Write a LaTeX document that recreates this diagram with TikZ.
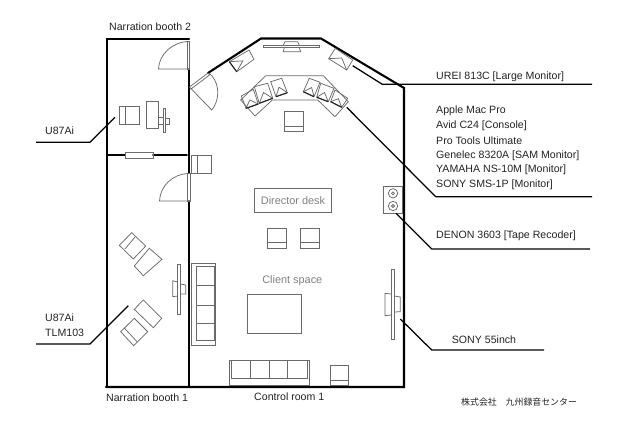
\documentclass[tikz,border=0pt]{standalone}
\usepackage{fontspec}
\setmainfont{Liberation Sans}
\newfontfamily\cjkfont{Noto Sans CJK JP}
\usetikzlibrary{calc}
\definecolor{ink}{HTML}{222222}
\definecolor{fur}{HTML}{6A6A6A}
\definecolor{soft}{HTML}{808080}
\tikzset{
  wall/.style={draw=black,line width=2.1pt,line cap=round,line join=miter},
  thinwall/.style={draw=black,line width=1.7pt,line cap=round},
  item/.style={draw=fur,line width=0.75pt,line join=miter},
  edge/.style={draw=ink,line width=1.1pt},
  leader/.style={draw=black,line width=1.25pt,line join=round},
  lab/.style={text=ink,anchor=west,inner sep=0pt,font=\fontsize{10.6}{12}\selectfont},
  grey/.style={text=soft,inner sep=0pt,font=\fontsize{10.9}{12}\selectfont}
}
\newcommand{\spk}[4]{%
  \draw[item] (#1) -- (#2) -- (#3) -- (#4) -- cycle;
  \draw[item] (#4) -- ($(#1)!.5!(#3)$) -- (#3);
  \draw[edge] (#3) -- (#4);}
\begin{document}
\begin{tikzpicture}[x=1pt,y=-1pt]
\useasboundingbox (0,0) rectangle (617,437);
% walls
\draw[wall] (107,387) -- (107,39) -- (189,39);
\draw[thinwall] (189,69) -- (189,173) (189,201) -- (189,387);
\draw[wall] (106,387) -- (404,387) -- (404,88) -- (321,38.5) -- (261,38.5) -- (208,73);
\draw[thinwall] (107,155) -- (125,155) (153,155) -- (187,155);
% doors
\draw[item] (187,41) rectangle (189.5,69);
\draw[item] (189,41.5) .. controls (173,41.5) and (159,54) .. (158.5,69) -- (189,69);
\draw[item] (187,173) rectangle (190,201);
\draw[item] (189,173.5) .. controls (173,173.5) and (160,186) .. (159.5,201) -- (189,201);
\draw[item] (189.5,87) -- (208,73) -- (209.5,75) -- (191,89) -- cycle;
\draw[item] (190.5,88) -- (211.7,110) .. controls (222,97) and (218,80) .. (209,73);
% window between booths
\draw[item] (125.5,152.5) rectangle (153,158);
% booth 2 furniture
\draw[item] (119,106) rectangle (139,124) (125,106) -- (125,124);
\draw[item] (146,101) rectangle (158,128);
\draw[item] (163,108) rectangle (165,132);
\draw[item] (158,117) rectangle (163,124);
\draw[item] (165,118) rectangle (169,124);
% chair at door
\draw[item] (191,155) rectangle (211,173) (197,155) -- (197,173);
% booth 1 furniture
\draw[item] (131.7,232.7) -- (145.7,246) -- (133.3,259) -- (119.3,245.3) -- cycle;
\draw[item] (125,249) -- (135,237);
\draw[item] (149.3,248.3) -- (162,259.3) -- (143.3,275.7) -- (134.3,266) -- cycle;
\draw[item] (143.3,300) -- (161.7,318.3) -- (153.3,327.7) -- (134.3,309.3) -- cycle;
\draw[item] (134.3,318.3) -- (147.7,331.7) -- (133.7,345.7) -- (120.7,331.7) -- cycle;
\draw[item] (124.3,328) -- (137,341.7);
\draw[item] (177.7,264) rectangle (180.7,314);
\draw[item] (177.7,282) -- (172.7,280.7) -- (172.7,296.7) -- (177.7,296);
\draw[item] (180.7,284) -- (185.7,285) -- (185.7,294) -- (180.7,294);
% sofa left
\draw[item] (191,263.3) rectangle (215.7,345);
\draw[item] (196.7,266) -- (214.3,266) -- (214.3,340.7) -- (196.7,340.7) -- cycle;
\draw[item] (196.7,285.7) -- (214.3,285.7) (196.7,305) -- (214.3,305) (196.7,323.3) -- (214.3,323.3);
% sofa bottom
\draw[item] (229,360) rectangle (309,385.5);
\draw[item] (231,360) -- (231,378.3) -- (307,378.3) -- (307,360);
\draw[item] (250.7,360) -- (250.7,378.3) (269.3,360) -- (269.3,378.3) (287.7,360) -- (287.7,378.3);
% chairs
\draw[item] (330.3,365.3) rectangle (348.7,385.5) (330.3,380) -- (348.7,380);
\draw[item] (267.7,228.7) rectangle (286.3,248.5) (267.7,242) -- (286.3,242);
\draw[item] (300.7,228.7) rectangle (319.3,248.5) (300.7,242) -- (319.3,242);
\draw[item] (284.7,111.7) rectangle (303.3,131.7) (284.7,126) -- (303.3,126);
% table
\draw[item] (247.3,294.3) rectangle (301.3,333.7);
% director desk
\draw[item] (254.3,188) rectangle (331.3,212.3);
\node[grey] (director) at (293,200.3) {Director desk};
\node[grey] (client) at (292.3,280.7) {Client space};
% tape recorder
\draw[item] (383.3,186.7) rectangle (402.7,213.3);
\draw[item] (393,193.3) circle[radius=4.7] (393,193.3) circle[radius=1.5];
\draw[item] (393,206) circle[radius=4.7] (393,206) circle[radius=1.5];
% 55 inch screen
\draw[item] (391.3,269.3) rectangle (394.3,339);
\draw[item] (391.3,294) -- (385,293.3) -- (385,315.7) -- (391.3,315);
\draw[item] (394.3,296) -- (400.3,297) -- (400.3,311.7) -- (394.3,312);
% large centre speaker
\draw[item] (263.3,45.3) rectangle (319,47.7);
\draw[item] (283.3,45.3) -- (285,41.7) -- (297.7,41.7) -- (299.3,45.3);
\draw[item] (284.3,47.7) -- (283.3,51.7) -- (300.7,51.7) -- (299.3,47.7);
% large monitors
\spk{249,50}{254,59.3}{236.7,71.7}{229.3,61.7}
\draw[item] (335.3,48.3) -- (352.7,60) -- (346.7,70) -- (328.7,58.7) -- cycle;
\draw[item] (328.7,58.7) -- (341.7,58) -- (346.7,70);
% console
\draw[item] (265.7,75.7) -- (323.3,75.7) -- (348.3,101.7) -- (335,116.7) -- (317.7,100) -- (272.3,100) -- (255,116) -- (240.7,100) -- cycle;
\spk{241.3,96}{253.3,89.3}{258.3,104}{246,108.3}
\spk{254.3,86.7}{267.7,83.3}{272.7,98.3}{259.3,103.3}
\spk{270.7,81.7}{281.7,78.3}{287.3,92.7}{276,96.7}
\spk{309.3,78.3}{320,82.3}{314,96.7}{303.3,91.7}
\spk{320.7,83.3}{334,88.3}{328.3,101.7}{316.7,97.3}
\spk{335,90}{347.7,98.3}{341.7,107.3}{330.7,101.7}
% leaders
\coordinate (la1) at (115,117.3); \coordinate (la2) at (90,142.3); \coordinate (la3) at (36,142.3);
\coordinate (lb1) at (128.3,305.7); \coordinate (lb2) at (90,344); \coordinate (lb3) at (36,344);
\coordinate (lc1) at (352.7,65.7); \coordinate (lc2) at (382.3,84.3); \coordinate (lc3) at (592,84.3);
\coordinate (ld1) at (346.7,107.3); \coordinate (ld2) at (435.7,196.7); \coordinate (ld3) at (592,196.7);
\coordinate (le1) at (396,213.3); \coordinate (le2) at (431.7,249); \coordinate (le3) at (590,249);
\coordinate (lf1) at (400.3,319); \coordinate (lf2) at (431.7,350); \coordinate (lf3) at (544,350);
\draw[leader] (la1) -- (la2) -- (la3);
\draw[leader] (lb1) -- (lb2) -- (lb3);
\draw[leader] (lc1) -- (lc2) -- (lc3);
\draw[leader] (ld1) -- (ld2) -- (ld3);
\draw[leader] (le1) -- (le2) -- (le3);
\draw[leader] (lf1) -- (lf2) -- (lf3);
% labels
\node[lab] (t1) at (109,27) {Narration booth 2};
\node[lab] (t2) at (106,398) {Narration booth 1};
\node[lab] (t3) at (254,397) {Control room 1};
\node[lab] (t4) at (45,131) {U87Ai};
\node[lab] (t5) at (45,318) {U87Ai};
\node[lab] (t6) at (45,332.7) {TLM103};
\node[lab] (t7) at (436,76.7) {UREI 813C [Large Monitor]};
\node[lab] (t8) at (436,111) {Apple Mac Pro};
\node[lab] (t9) at (436,125.7) {Avid C24 [Console]};
\node[lab] (t10) at (436,140.7) {Pro Tools Ultimate};
\node[lab] (t11) at (436,155.3) {Genelec 8320A [SAM Monitor]};
\node[lab] (t12) at (436,170) {YAMAHA NS-10M [Monitor]};
\node[lab] (t13) at (436,184.3) {SONY SMS-1P [Monitor]};
\node[lab] (t14) at (436,236) {DENON 3603 [Tape Recoder]};
\node[lab] (t15) at (451.7,339.3) {SONY 55inch};
\node[lab,font=\cjkfont\fontsize{8.9}{10}\selectfont] (t16) at (461,402) {株式会社　九州録音センター};
\end{tikzpicture}
\end{document}
